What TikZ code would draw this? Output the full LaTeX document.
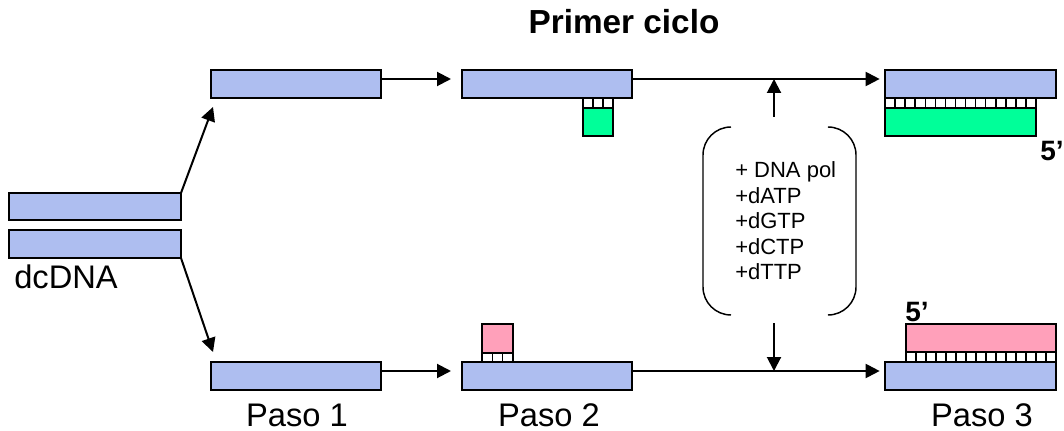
\documentclass[tikz,border=0pt]{standalone}
\usepackage{fontspec}
\setmainfont{Liberation Sans}
\usetikzlibrary{fit,calc,arrows.meta}
\definecolor{dnablue}{RGB}{174,190,240}
\definecolor{primgreen}{RGB}{0,255,153}
\definecolor{primpink}{RGB}{255,160,186}
\tikzset{
  strand/.style={draw=black, line width=1.6pt, fill=dnablue, inner sep=0pt, outer sep=0pt},
  gprimer/.style={strand, fill=primgreen},
  pprimer/.style={strand, fill=primpink},
  tickbox/.style={draw=black, line width=1.1pt, fill=white},
  arr/.style={line width=1.5pt, -{Triangle[length=10.5pt,width=10.5pt]}},
  brace/.style={line width=1.1pt, rounded corners=21pt},
  bigtext/.style={font=\fontsize{24.5}{29}\selectfont, inner sep=0pt},
  fivep/.style={font=\fontsize{21}{25}\selectfont\bfseries},
}
\begin{document}
\begin{tikzpicture}[x=0.75pt,y=-0.75pt]
\useasboundingbox (0,0) rectangle (1064,431);
% title
\node[font=\fontsize{25}{30}\selectfont\bfseries] (title) at (624,22) {Primer ciclo};
% dcDNA
\node[strand, fit={(9,193) (181,220)}] (dcA) {};
\node[strand, fit={(9,230) (181,258)}] (dcB) {};
\node[bigtext, anchor=base west] (dclab) at (14,288) {dcDNA};
% Paso 1
\node[strand, fit={(211,70) (381,98)}] (p1t) {};
\node[strand, fit={(211,362) (381,390)}] (p1b) {};
% Paso 2
\node[strand, fit={(462,70) (632,98)}] (p2t) {};
\node[strand, fit={(462,362) (632,390)}] (p2b) {};
\node[gprimer, fit={(583,108) (613,136)}] (g2) {};
\node[pprimer, fit={(482,324) (513,353)}] (k2) {};
\foreach \i in {0,1,2} \draw[tickbox] ({583+10*\i},98) rectangle ++(10,10);
\foreach \i in {0,1,2} \draw[tickbox] ({482+10.33*\i},353) rectangle ++(10.33,9);
% Paso 3
\node[strand, fit={(885,70) (1056,98)}] (p3t) {};
\node[gprimer, fit={(885,108) (1036,136)}] (g3) {};
\foreach \i in {0,...,14} \draw[tickbox] ({885+10.07*\i},98) rectangle ++(10.07,10);
\node[strand, fit={(885,362) (1056,390)}] (p3b) {};
\node[pprimer, fit={(906,324) (1056,352)}] (k3) {};
\foreach \i in {0,...,14} \draw[tickbox] ({906+10*\i},352) rectangle ++(10,10);
\node[fivep] (f1) at (1052,151) {5’};
\node[fivep] (f2) at (917,312) {5’};
% labels
\node[bigtext, anchor=base] (l1) at (297,426) {Paso 1};
\node[bigtext, anchor=base] (l2) at (549,426) {Paso 2};
\node[bigtext, anchor=base] (l3) at (982,426) {Paso 3};
% mix
\node[inner sep=0pt, outer sep=0pt, fit={(703,127) (856,315)}] (mix) {};
\node[anchor=west, align=left, inner sep=0pt, font=\fontsize{16.5}{19.1}\selectfont] (mixtext) at (735,221)
  {+ DNA pol\\+dATP\\+dGTP\\+dCTP\\+dTTP};
\draw[brace] ($(mix.north west)+(28,0)$) -- (mix.north west) -- (mix.south west) -- ($(mix.south west)+(28,0)$);
\draw[brace] ($(mix.north east)+(-27,0)$) -- (mix.north east) -- (mix.south east) -- ($(mix.south east)+(-27,0)$);
% reference coordinates
\coordinate (rtop) at (0,79);
\coordinate (rbot) at (0,371);
\coordinate (vx) at (774,0);
% connectors
\draw[arr] (dcA.north east) -- ($(p1t.south west)+(2,9)$);
\draw[arr] (dcB.south east) -- ($(p1b.north west)+(2,-10)$);
\draw[arr, shorten >=8.25pt] (p1t.east |- rtop) -- (p2t.west |- rtop);
\draw[arr, shorten >=8.25pt] (p1b.east |- rbot) -- (p2b.west |- rbot);
\draw[arr, shorten >=4pt] (p2t.east |- rtop) -- (p3t.west |- rtop);
\draw[arr, shorten >=4pt] (p2b.east |- rbot) -- (p3b.west |- rbot);
\draw[arr] ($(vx |- mix.north)+(0,-10)$) -- (vx |- rtop);
\draw[arr] ($(vx |- mix.south)+(0,8)$) -- (vx |- rbot);
\end{tikzpicture}
\end{document}
